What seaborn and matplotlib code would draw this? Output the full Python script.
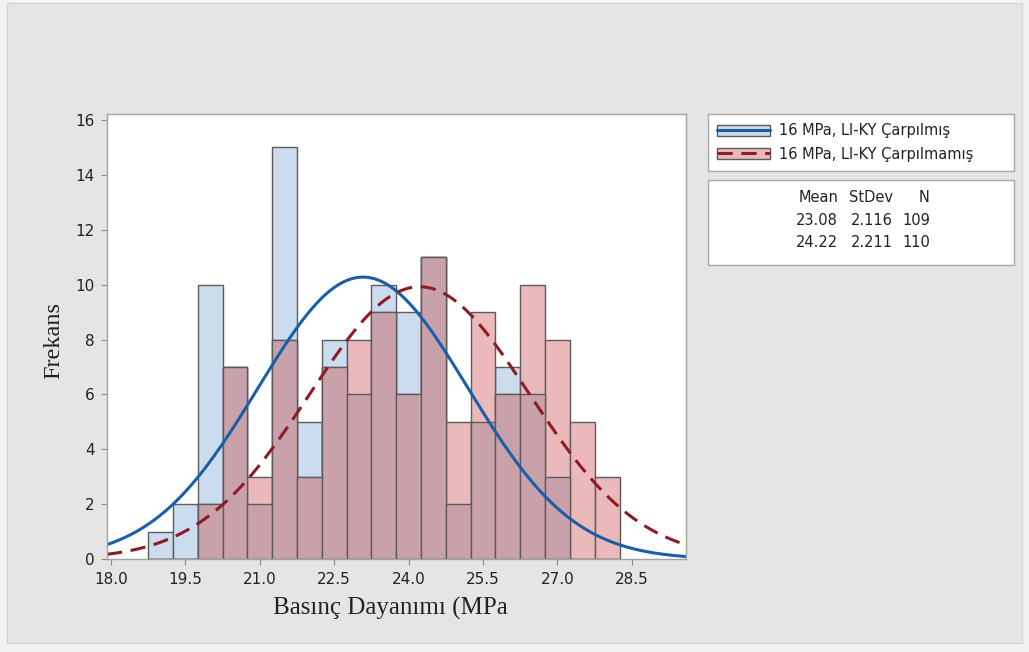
import numpy as np
import pandas as pd
import matplotlib
matplotlib.use("Agg")
import matplotlib.pyplot as plt
import seaborn as sns
from matplotlib.patches import Patch, Rectangle
from matplotlib.lines import Line2D
from matplotlib.legend_handler import HandlerTuple

# ---------------- data ----------------
bin_centers = [19.0, 19.5, 20.0, 20.5, 21.0, 21.5, 22.0, 22.5, 23.0, 23.5,
               24.0, 24.5, 25.0, 25.5, 26.0, 26.5, 27.0, 27.5, 28.0]
counts_carpilmis = [1, 2, 10, 7, 2, 15, 5, 8, 6, 10, 9, 11, 2, 5, 7, 6, 3, 0, 0]
counts_carpilmamis = [0, 0, 2, 7, 3, 8, 3, 7, 8, 9, 6, 11, 5, 9, 6, 10, 8, 5, 3]
series_labels = ["16 MPa, LI-KY Çarpılmış", "16 MPa, LI-KY Çarpılmamış"]
means = [23.08, 24.22]
stdevs = [2.116, 2.211]
ns = [109, 110]
x_ticks = [18.0, 19.5, 21.0, 22.5, 24.0, 25.5, 27.0, 28.5]
y_ticks = [0, 2, 4, 6, 8, 10, 12, 14, 16]
x_label = "Basınç Dayanımı (MPa"
y_label = "Frekans"

# ---------------- style ----------------
sns.set_style("white")
plt.rcParams["font.family"] = ["DejaVu Sans"]

W, H = 1029, 652
blue_fill = "#cbdcee"
red_fill = "#ebb9b9"
overlap_fill = "#c9a1aa"
bar_edge = "#5e5a5a"
blue_line = "#1b5ea8"
red_line = "#8c1c26"
text_col = "#222222"
dash = (0, (5, 2.8))

fig = plt.figure(figsize=(W / 100, H / 100), dpi=100, facecolor="#f2f2f2")
fig.patches.append(Rectangle((7 / W, 1 - 643 / H), (1022 - 7) / W, (643 - 3) / H,
                             transform=fig.transFigure, facecolor="#e5e5e5",
                             edgecolor="#d4d4d4", lw=1, zorder=-5))

ax = fig.add_axes([107 / W, 1 - 559 / H, (686 - 107) / W, (559 - 114) / H])
ax.set_zorder(2)
ax.set_facecolor("white")

bw = bin_centers[1] - bin_centers[0]
edges = [c - bw / 2 for c in bin_centers] + [bin_centers[-1] + bw / 2]
overlap = np.minimum(counts_carpilmis, counts_carpilmamis)

df = pd.DataFrame({"x": bin_centers, "c1": counts_carpilmis,
                   "c2": counts_carpilmamis, "ov": overlap})
for col, fc in [("c1", blue_fill), ("c2", red_fill), ("ov", overlap_fill)]:
    sns.histplot(data=df, x="x", weights=col, bins=edges, ax=ax,
                 facecolor=fc, edgecolor=bar_edge, linewidth=1.0, alpha=1)

xmin, xmax = 17.92, 29.59
xs = np.linspace(xmin, xmax, 500)
for m, s, n, c, ls in [(means[0], stdevs[0], ns[0], blue_line, "-"),
                       (means[1], stdevs[1], ns[1], red_line, dash)]:
    ys = n * bw / (s * np.sqrt(2 * np.pi)) * np.exp(-0.5 * ((xs - m) / s) ** 2)
    sns.lineplot(x=xs, y=ys, ax=ax, color=c, lw=2.2, linestyle=ls)

ax.set_xlim(xmin, xmax)
ax.set_ylim(0, 16.22)
ax.set_xticks(x_ticks)
ax.set_xticklabels([f"{t:.1f}" for t in x_ticks])
ax.set_yticks(y_ticks)
ax.set_yticklabels([str(t) for t in y_ticks])
ax.tick_params(axis="both", which="major", direction="out", length=4, width=0.8,
               color="#8a8a8a", labelsize=11, labelcolor=text_col, pad=5,
               bottom=True, left=True)
for sp in ax.spines.values():
    sp.set_color("#a3a3a3")
    sp.set_linewidth(1)

ax.set_xlabel(x_label, family="Liberation Serif", fontsize=18, color=text_col)
ax.set_ylabel(y_label, family="Liberation Serif", fontsize=17.5, color=text_col)
ax.xaxis.set_label_coords((390 - 107) / 579, (559 - 597) / 445)
ax.yaxis.set_label_coords((64 - 107) / 579, (559 - 340) / 445)

# ---------------- legend ----------------
handles = [
    (Patch(facecolor=blue_fill, edgecolor=bar_edge, lw=1),
     Line2D([], [], color=blue_line, lw=2.2)),
    (Patch(facecolor=red_fill, edgecolor=bar_edge, lw=1),
     Line2D([], [], color=red_line, lw=2.2, linestyle=dash)),
]
leg = fig.legend(handles, series_labels, loc="upper left",
                 bbox_to_anchor=(708 / W, 1 - 114 / H, 306 / W, 0),
                 mode="expand", fontsize=10.5, frameon=True, fancybox=False,
                 edgecolor="#a8a8a8", facecolor="white", framealpha=1,
                 handlelength=3.6, handleheight=0.75, handletextpad=0.6,
                 labelspacing=0.55, borderpad=0.65, borderaxespad=0,
                 handler_map={tuple: HandlerTuple(ndivide=1, pad=0)})
for t in leg.get_texts():
    t.set_color(text_col)
leg.get_frame().set_linewidth(1)

# ---------------- stats box ----------------
fig.patches.append(Rectangle((708 / W, 1 - 265 / H), 306 / W, (265 - 180) / H,
                             transform=fig.transFigure, facecolor="white",
                             edgecolor="#a8a8a8", lw=1, zorder=1))
col_x = [838, 893, 930]
rows = [["Mean", "StDev", "N"],
        [f"{means[0]:.2f}", f"{stdevs[0]:.3f}", f"{ns[0]}"],
        [f"{means[1]:.2f}", f"{stdevs[1]:.3f}", f"{ns[1]}"]]
row_y = [198, 220, 242]
for r, yy in zip(rows, row_y):
    for txt, xx in zip(r, col_x):
        fig.text(xx / W, 1 - yy / H, txt, ha="right", va="center",
                 fontsize=10.5, color=text_col, zorder=2)

fig.savefig("out.png", dpi=100, facecolor=fig.get_facecolor())
